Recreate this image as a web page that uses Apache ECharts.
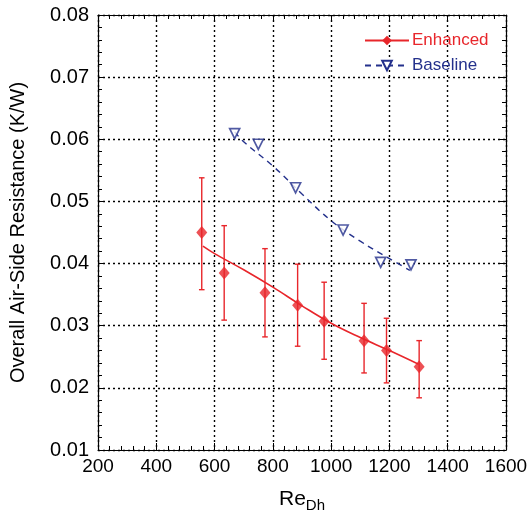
<!DOCTYPE html>
<html>
<head>
<meta charset="utf-8">
<script src="https://cdn.jsdelivr.net/npm/echarts@6/dist/echarts.min.js"></script>
<style>
html,body{margin:0;padding:0;background:#fff;}
#c{width:532px;height:518px;}
</style>
</head>
<body>
<div id="c"></div>
<script>
// Enhanced measured points
var enhX    = [556, 633, 773, 885, 976, 1113, 1190, 1302];
var enhY    = [0.0450, 0.0385, 0.0353, 0.0333, 0.0307, 0.0276, 0.0260, 0.0234];
var enhLow  = [0.0358, 0.0309, 0.0282, 0.0267, 0.0246, 0.0224, 0.0208, 0.0184];
var enhHigh = [0.0538, 0.0461, 0.0424, 0.0399, 0.0370, 0.0336, 0.0312, 0.0276];
// Enhanced fit curve
var enhFitX = [560, 600, 700, 800, 900, 1000, 1100, 1200, 1300];
var enhFitY = [0.0428, 0.0416, 0.0390, 0.0362, 0.0332, 0.0304, 0.0281, 0.0260, 0.0238];
// Baseline measured points
var baseX = [669, 750, 878, 1041, 1170, 1274];
var baseY = [0.0609, 0.0592, 0.0522, 0.0454, 0.0402, 0.0398];
// Baseline fit curve
var baseFitX = [669, 700, 800, 900, 1000, 1100, 1200, 1270];
var baseFitY = [0.0612, 0.0596, 0.0557, 0.0512, 0.0469, 0.0436, 0.0408, 0.0389];
// Axis ticks
var xMin = 200, xMax = 1600, xStep = 200;
var yMin = 0.01, yMax = 0.08, yStep = 0.01;

var RED = '#e8262b';
var BLUE = '#24318c';
var FONT = '"Liberation Sans", Arial, Helvetica, sans-serif';

function zip(a, b) { return a.map(function (v, i) { return [v, b[i]]; }); }

var chart = echarts.init(document.getElementById('c'), null, {renderer: 'canvas'});

var axisLine = {show: true, onZero: false, lineStyle: {color: '#000', width: 1.2}};
var tickIn = {show: true, inside: true, length: 7, lineStyle: {color: '#000', width: 1}};
var minorIn = {show: true, splitNumber: 5, length: 4, lineStyle: {color: '#000', width: 1}};
var dotted = {show: true, lineStyle: {color: '#000', width: 1.4, type: [2, 3]}};

var option = {
  backgroundColor: '#fff',
  animation: false,
  textStyle: {fontFamily: FONT},
  grid: {left: 91, right: 26, top: 15, bottom: 65, containLabel: false},
  legend: {
    orient: 'vertical',
    left: 359,
    top: 27,
    itemWidth: 44,
    itemHeight: 12,
    itemGap: 8,
    data: [
      {name: 'Enhanced', textStyle: {color: RED}},
      {name: 'Baseline', textStyle: {color: BLUE}}
    ],
    textStyle: {fontSize: 17, fontFamily: FONT, padding: [0, 0, 0, -2]}
  },
  xAxis: [{
    type: 'value', min: xMin, max: xMax, interval: xStep, position: 'bottom',
    axisLine: axisLine, axisTick: tickIn, minorTick: minorIn, splitLine: dotted,
    axisLabel: {color: '#000', fontSize: 19, margin: 7, fontFamily: FONT,
      formatter: function (v) { return String(Math.round(v)); }},
    name: '{a|Re}{b|Dh}', nameLocation: 'middle', nameGap: 36,
    nameTextStyle: {
      rich: {
        a: {fontSize: 21, color: '#000', fontFamily: FONT},
        b: {fontSize: 15, color: '#000', fontFamily: FONT, verticalAlign: 'bottom', padding: [12, 0, 0, 0]}
      }
    }
  }, {
    type: 'value', min: xMin, max: xMax, interval: xStep, position: 'top',
    axisLine: axisLine, axisTick: tickIn, minorTick: minorIn, splitLine: {show: false},
    axisLabel: {show: false}
  }],
  yAxis: [{
    type: 'value', min: yMin, max: yMax, interval: yStep, position: 'left',
    axisLine: axisLine, axisTick: tickIn, minorTick: minorIn, splitLine: dotted,
    axisLabel: {color: '#000', fontSize: 20, margin: 9, fontFamily: FONT,
      formatter: function (v) { return v.toFixed(2); }},
    name: 'Overall Air-Side Resistance (K/W)', nameLocation: 'middle', nameGap: 70,
    nameTextStyle: {fontSize: 20, color: '#000', fontFamily: FONT}
  }, {
    type: 'value', min: yMin, max: yMax, interval: yStep, position: 'right',
    axisLine: axisLine, axisTick: tickIn, minorTick: minorIn, splitLine: {show: false},
    axisLabel: {show: false}
  }],
  series: [
    {
      name: 'Enhanced', type: 'line', data: zip(enhFitX, enhFitY),
      smooth: 0.4, showSymbol: false, symbol: 'diamond', symbolSize: [10, 12],
      lineStyle: {color: RED, width: 1.6}, itemStyle: {color: RED}, z: 3
    },
    {
      name: 'EnhancedErr', type: 'custom',
      data: enhX.map(function (x, i) { return [x, enhLow[i], enhHigh[i]]; }),
      renderItem: function (params, api) {
        var lo = api.coord([api.value(0), api.value(1)]);
        var hi = api.coord([api.value(0), api.value(2)]);
        var w = 2.8;
        var st = {stroke: RED, lineWidth: 1.4};
        return {type: 'group', children: [
          {type: 'line', shape: {x1: lo[0], y1: lo[1], x2: hi[0], y2: hi[1]}, style: st},
          {type: 'line', shape: {x1: lo[0] - w, y1: lo[1], x2: lo[0] + w, y2: lo[1]}, style: st},
          {type: 'line', shape: {x1: hi[0] - w, y1: hi[1], x2: hi[0] + w, y2: hi[1]}, style: st}
        ]};
      },
      z: 4
    },
    {
      name: 'EnhancedPts', type: 'scatter', data: zip(enhX, enhY),
      symbol: 'diamond', symbolSize: [11, 13], itemStyle: {color: RED}, z: 5
    },
    {
      name: 'Baseline', type: 'line', data: zip(baseFitX, baseFitY),
      smooth: 0.4, showSymbol: false, symbol: 'triangle', symbolRotate: 180, symbolSize: 10,
      lineStyle: {color: BLUE, width: 1.4, type: [6, 5]},
      itemStyle: {color: '#fff', borderColor: BLUE, borderWidth: 1.7}, z: 3
    },
    {
      name: 'BaselinePts', type: 'scatter', data: zip(baseX, baseY),
      symbol: 'triangle', symbolRotate: 180, symbolSize: 10,
      itemStyle: {color: '#fff', borderColor: BLUE, borderWidth: 1.7}, z: 5
    }
  ]
};
chart.setOption(option);
</script>
</body>
</html>
